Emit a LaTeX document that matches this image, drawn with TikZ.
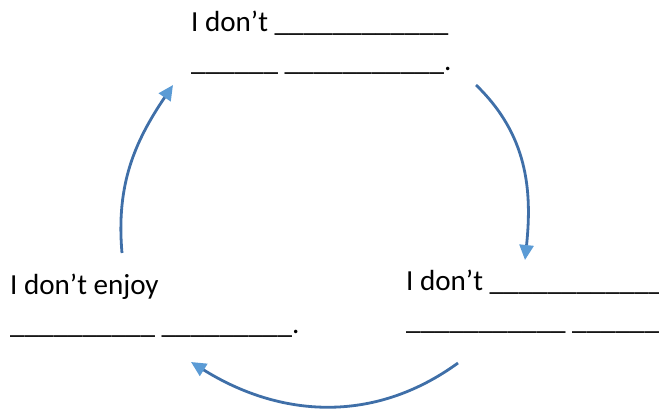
\documentclass[tikz,border=0pt]{standalone}
\usepackage{fontspec}
\setmainfont{Carlito}
\usetikzlibrary{arrows.meta}
\definecolor{arrowdark}{HTML}{3F6FA8}
\definecolor{arrowlight}{HTML}{5B9BD5}
\tikzset{
  label/.style={anchor=base west, inner sep=0pt, align=left,
    font=\fontsize{29.2}{38.5}\selectfont},
  cyclearrow/.style={draw=arrowdark, line width=2.8bp,
    -{Triangle[length=15bp,width=14bp,color=arrowlight,fill=arrowlight]}}
}
\begin{document}
\begin{tikzpicture}[x=1bp,y=1bp]
\useasboundingbox (0,0) rectangle (659,411);
\node[label] (top) at (191,341) {I don’t \_\_\_\_\_\_\_\_\_\_\_\_\\\_\_\_\_\_\_ \_\_\_\_\_\_\_\_\_\_\_.};
\node[label] (right) at (406,82) {I don’t \_\_\_\_\_\_\_\_\_\_\_\_\\\_\_\_\_\_\_\_\_\_\_\_ \_\_\_\_\_\_\_};
\node[label] (left) at (10,78) {I don’t enjoy\\\_\_\_\_\_\_\_\_\_\_ \_\_\_\_\_\_\_\_\_.};
\coordinate (a1s) at (122,158);
\coordinate (a1e) at (173,326);
\coordinate (a2s) at (476,326);
\coordinate (a2e) at (525,151);
\coordinate (a3s) at (458,48);
\coordinate (a3e) at (191,49);
\draw[cyclearrow] (a1s) to[out=95,in=236] (a1e);
\draw[cyclearrow] (a2s) to[out=-44,in=84] (a2e);
\draw[cyclearrow] (a3s) to[out=216,in=328] (a3e);
\end{tikzpicture}
\end{document}
